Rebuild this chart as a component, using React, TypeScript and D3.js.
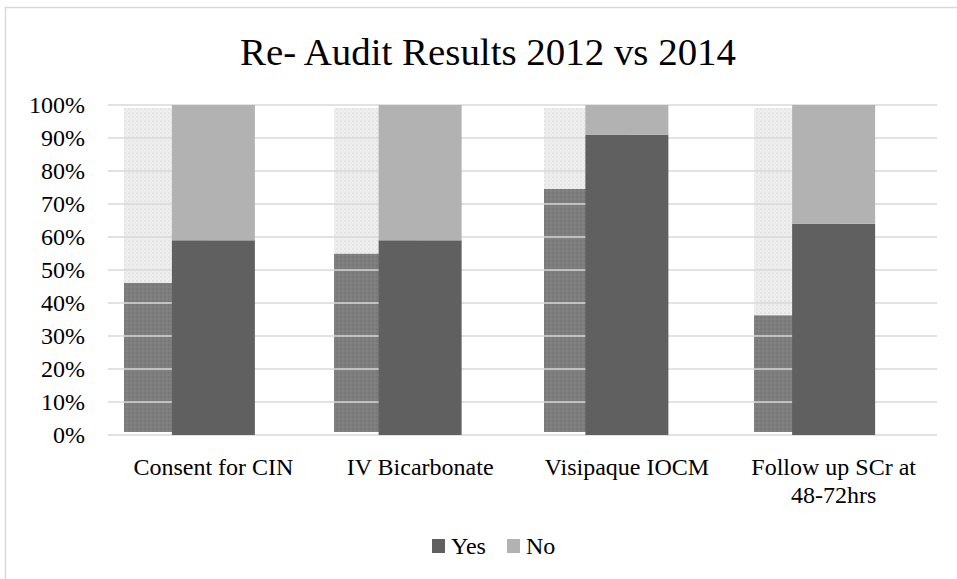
import * as d3 from "d3";

const categories = ["Consent for CIN", "IV Bicarbonate", "Visipaque IOCM", "Follow up SCr at 48-72hrs"];
const categoryLines = [["Consent for CIN"], ["IV Bicarbonate"], ["Visipaque IOCM"], ["Follow up SCr at", "48-72hrs"]];
const yes2012 = [46, 55, 75, 36];
const no2012 = [54, 45, 25, 64];
const yes2014 = [59, 59, 91, 64];
const no2014 = [41, 41, 9, 36];
const yTicks = [0, 10, 20, 30, 40, 50, 60, 70, 80, 90, 100];
const legendItems = [
  { label: "Yes", color: "#606060" },
  { label: "No", color: "#b2b2b2" },
];

const W = 957;
const H = 579;
const FONT = "'Liberation Serif', 'Times New Roman', serif";

export default function App() {
  const plotLeft = 108;
  const plotRight = 937;
  const y = d3.scaleLinear().domain([0, 100]).range([435, 105]);
  // the 2012 bars sit on their own slightly inset scale (they were a pasted picture fill)
  const y2012 = d3.scaleLinear().domain([0, 100]).range([432, 108]);
  const x = d3.scaleBand().domain(categories).range([110, 937]).paddingInner(0).paddingOuter(0);
  const x2012 = d3.scaleBand().domain(categories).range([124, 964]);
  const barW = 83;
  const center = (c: string) => (x(c) as number) + x.bandwidth() / 2;

  return (
    <svg width={W} height={H} style={{ position: "absolute", left: 0, top: 0, background: "#fff" }} fontFamily={FONT}>
      <defs>
        <pattern id="lightDots" width="4" height="4" patternUnits="userSpaceOnUse">
          <rect width="4" height="4" fill="#efefef" />
          <circle cx="1" cy="1" r="0.7" fill="#d2d2d2" />
          <circle cx="3" cy="3" r="0.6" fill="#dcdcdc" />
        </pattern>
        <pattern id="darkDots" width="4" height="4" patternUnits="userSpaceOnUse">
          <rect width="4" height="4" fill="#7e7e7e" />
          <circle cx="1" cy="1" r="0.7" fill="#6c6c6c" />
          <circle cx="3" cy="3" r="0.6" fill="#8e8e8e" />
        </pattern>
      </defs>
      <rect x={0} y={0} width={W} height={H} fill="#fff" />
      <rect x={5.5} y={7.5} width={980} height={620} fill="none" stroke="#d9d9d9" strokeWidth={1.5} />

      <text x={488} y={65} textAnchor="middle" fontSize={38} fill="#000" textLength={496} lengthAdjust="spacingAndGlyphs">
        Re- Audit Results 2012 vs 2014
      </text>

      {/* 2012 bars (behind) */}
      {categories.map((c, i) => {
        const x0 = x2012(c) as number;
        return (
          <g key={"b12" + c}>
            <rect x={x0} width={barW} y={y2012(100)} height={y2012(yes2012[i]) - y2012(100)} fill="url(#lightDots)" />
            <rect x={x0} width={barW} y={y2012(yes2012[i])} height={y2012(0) - y2012(yes2012[i])} fill="url(#darkDots)" />
          </g>
        );
      })}

      {/* gridlines */}
      {yTicks.map((t) => (
        <line key={"g" + t} x1={plotLeft} x2={plotRight} y1={y(t)} y2={y(t)} stroke="#d9d9d9" strokeWidth={1.5} />
      ))}

      {/* 2014 bars */}
      {categories.map((c, i) => {
        const x0 = center(c) - barW / 2;
        return (
          <g key={"b14" + c}>
            <rect x={x0} width={barW} y={y(yes2014[i])} height={y(0) - y(yes2014[i])} fill="#606060" />
            <rect x={x0} width={barW} y={y(yes2014[i] + no2014[i])} height={y(yes2014[i]) - y(yes2014[i] + no2014[i])} fill="#b2b2b2" />
          </g>
        );
      })}

      {/* y tick labels */}
      {yTicks.map((t) => (
        <text key={"t" + t} x={85} y={y(t)} dy="0.35em" textAnchor="end" fontSize={24} fill="#000">
          {t + "%"}
        </text>
      ))}

      {/* category labels */}
      {categories.map((c, i) => (
        <text key={"c" + c} x={center(c)} y={475} textAnchor="middle" fontSize={24} fill="#000">
          {categoryLines[i].map((ln, j) => (
            <tspan key={j} x={center(c)} dy={j === 0 ? 0 : 28}>{ln}</tspan>
          ))}
        </text>
      ))}

      {/* legend */}
      {legendItems.map((d, i) => {
        const lx = 432 + i * 75;
        return (
          <g key={"l" + d.label}>
            <rect x={lx} y={539} width={13} height={14} fill={d.color} />
            <text x={lx + 19} y={554} fontSize={24} fill="#000">{d.label}</text>
          </g>
        );
      })}
    </svg>
  );
}
